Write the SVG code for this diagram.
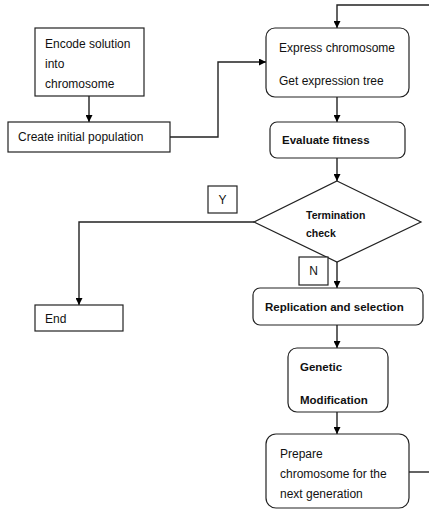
<svg xmlns="http://www.w3.org/2000/svg" width="429" height="510" viewBox="0 0 429 510">
<defs>
<marker id="ah" viewBox="0 0 10 10" refX="10" refY="5" markerWidth="7" markerHeight="7" markerUnits="userSpaceOnUse" orient="auto">
<path d="M0,0 L10,5 L0,10 z" fill="#000"/>
</marker>
</defs>
<style>
.box{fill:#fff;stroke:#222;stroke-width:1.2}
.t{font-family:"Liberation Sans",Arial,sans-serif;font-size:12px;fill:#111}
.b{font-family:"Liberation Sans",Arial,sans-serif;font-size:11.5px;font-weight:bold;fill:#111}
.c{fill:none;stroke:#222;stroke-width:1.4}
</style>
<rect width="429" height="510" fill="#fff"/>
<g id="connectors">
<path class="c" d="M89,96 V122" marker-end="url(#ah)"/>
<path class="c" d="M170,137 H218 V62 H266" marker-end="url(#ah)"/>
<path class="c" d="M429,5 H337 V28" marker-end="url(#ah)"/>
<path class="c" d="M337,97 V122" marker-end="url(#ah)"/>
<path class="c" d="M337,158 V181" marker-end="url(#ah)"/>
<path class="c" d="M254,222 H79 V305" marker-end="url(#ah)"/>
<path class="c" d="M337,262 V288" marker-end="url(#ah)"/>
<path class="c" d="M337,325 V348" marker-end="url(#ah)"/>
<path class="c" d="M337,412 V434" marker-end="url(#ah)"/>
<path class="c" d="M409,472 H429"/>
</g>
<g id="encode">
<rect class="box" x="35" y="28" width="109" height="68"/>
<text class="t" x="45" y="48">Encode solution</text>
<text class="t" x="45" y="68">into</text>
<text class="t" x="45" y="88">chromosome</text>
</g>
<g id="create">
<rect class="box" x="8" y="122" width="162" height="30"/>
<text class="t" x="18" y="141">Create initial population</text>
</g>
<g id="express">
<rect class="box" x="266" y="28" width="143" height="69" rx="9"/>
<text class="t" x="279" y="52">Express chromosome</text>
<text class="t" x="279" y="85">Get expression tree</text>
</g>
<g id="evaluate">
<rect class="box" x="270" y="122" width="135" height="36" rx="7"/>
<text class="b" x="282" y="144">Evaluate fitness</text>
</g>
<g id="termination">
<polygon class="box" points="337,181 421,222 337,262 254,222"/>
<text class="b" x="306" y="219" style="font-size:10.5px">Termination</text>
<text class="b" x="306" y="237" style="font-size:10.5px">check</text>
</g>
<g id="y-label">
<rect class="box" x="208" y="186" width="29" height="27"/>
<text class="t" x="222.5" y="204" text-anchor="middle">Y</text>
</g>
<g id="n-label">
<rect class="box" x="299" y="257" width="29" height="28"/>
<text class="t" x="313.5" y="275" text-anchor="middle">N</text>
</g>
<g id="end">
<rect class="box" x="35" y="305" width="88" height="26"/>
<text class="t" x="45" y="323">End</text>
</g>
<g id="replication">
<rect class="box" x="253" y="288" width="170" height="37" rx="7"/>
<text class="b" x="265" y="311">Replication and selection</text>
</g>
<g id="genetic">
<rect class="box" x="288" y="348" width="100" height="64" rx="9"/>
<text class="b" x="300" y="371">Genetic</text>
<text class="b" x="300" y="404">Modification</text>
</g>
<g id="prepare">
<rect class="box" x="266" y="434" width="143" height="74" rx="10"/>
<text class="t" x="280" y="458">Prepare</text>
<text class="t" x="280" y="478">chromosome for the</text>
<text class="t" x="280" y="498">next generation</text>
</g>
</svg>
